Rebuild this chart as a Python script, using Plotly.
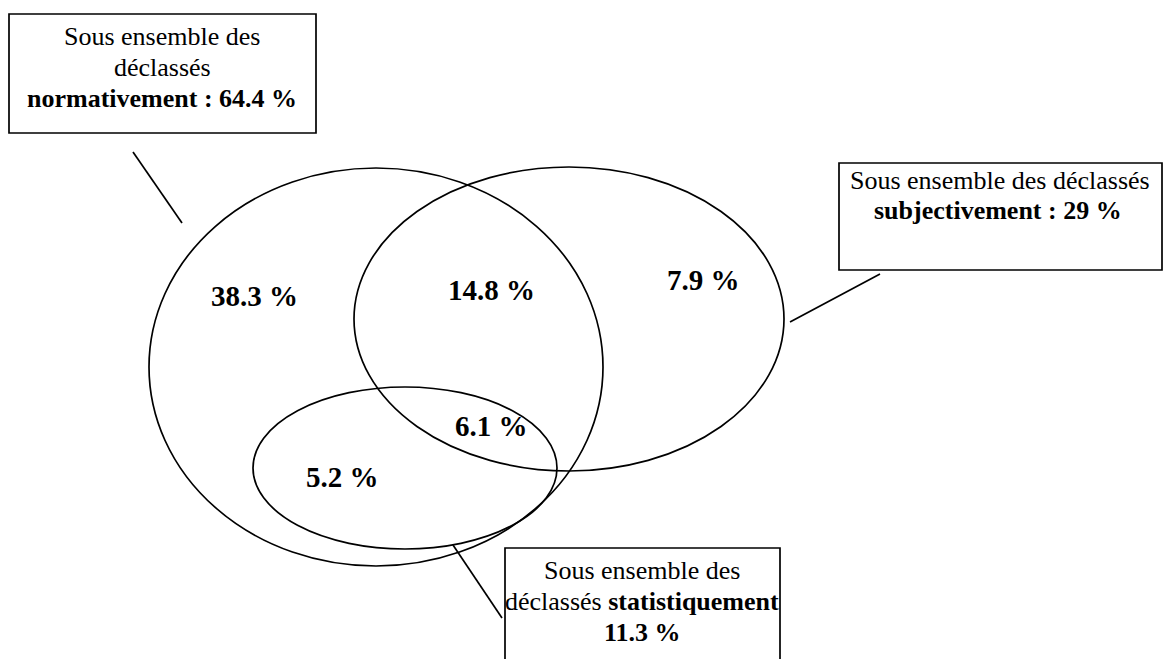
import plotly.graph_objects as go

# ---- data ----
region_names = ["normativement seul", "normativement et subjectivement",
                "subjectivement seul", "les trois", "normativement et statistiquement"]
region_values = [38.3, 14.8, 7.9, 6.1, 5.2]
set_names = ["normativement", "subjectivement", "statistiquement"]
set_totals = [64.4, 29, 11.3]

# ---- layout (pixel-like coordinates) ----
W, H = 1164, 659
ellipses = {  # cx, cy, rx, ry
    "normativement": (376, 367, 227, 199),
    "subjectivement": (569, 319, 215, 152),
    "statistiquement": (405, 468, 152, 81),
}
region_pos = [(254, 296), (491, 290), (703, 280), (491, 426), (342, 477)]
boxes = {  # x0, y0, x1, y1
    "normativement": (9, 14, 316, 133),
    "subjectivement": (839, 163, 1162, 270),
    "statistiquement": (505, 548, 780, 675),
}
connectors = {
    "normativement": ((133, 152), (182, 223)),
    "subjectivement": ((790, 322), (880, 274)),
    "statistiquement": ((453, 545), (502, 618)),
}

FONT = "Liberation Serif"
BOX_SIZE = 26
LBL_SIZE = 29
LW = 1.7


def fmt(v):
    return f"{v:g} %"


fig = go.Figure()
fig.add_trace(go.Scatter(x=[0, W], y=[0, H], mode="markers",
                         marker=dict(opacity=0), hoverinfo="skip", showlegend=False))

shapes = []
for name in set_names:
    cx, cy, rx, ry = ellipses[name]
    shapes.append(dict(type="circle", xref="x", yref="y",
                       x0=cx - rx, x1=cx + rx, y0=cy - ry, y1=cy + ry,
                       line=dict(color="black", width=LW), fillcolor="rgba(0,0,0,0)"))
    bx0, by0, bx1, by1 = boxes[name]
    shapes.append(dict(type="rect", xref="x", yref="y", x0=bx0, x1=bx1, y0=by0, y1=by1,
                       line=dict(color="black", width=LW), fillcolor="rgba(0,0,0,0)"))
    (lx0, ly0), (lx1, ly1) = connectors[name]
    shapes.append(dict(type="line", xref="x", yref="y", x0=lx0, y0=ly0, x1=lx1, y1=ly1,
                       line=dict(color="black", width=LW)))

annotations = []
for (x, y), v in zip(region_pos, region_values):
    annotations.append(dict(x=x, y=y, xref="x", yref="y", text=f"<b>{fmt(v)}</b>",
                            showarrow=False, xanchor="center", yanchor="middle",
                            font=dict(family=FONT, size=LBL_SIZE, color="black")))

box_lines = {
    "normativement": [("Sous ensemble des", 162, 36),
                      ("déclassés", 162, 67),
                      (f"<b>{set_names[0]} : {fmt(set_totals[0])}</b>", 162, 98)],
    "subjectivement": [("Sous ensemble des déclassés", 1000, 180),
                       (f"<b>{set_names[1]} : {fmt(set_totals[1])}</b>", 998, 210)],
    "statistiquement": [("Sous ensemble des", 642, 570),
                        (f"déclassés <b>{set_names[2]}</b>", 642, 601),
                        (f"<b>{fmt(set_totals[2])}</b>", 642, 632)],
}
for name in set_names:
    for txt, x, y in box_lines[name]:
        annotations.append(dict(x=x, y=y, xref="x", yref="y", text=txt,
                                showarrow=False, xanchor="center", yanchor="middle",
                                font=dict(family=FONT, size=BOX_SIZE, color="black")))

fig.update_layout(
    width=W, height=H, margin=dict(l=0, r=0, t=0, b=0),
    paper_bgcolor="white", plot_bgcolor="white",
    xaxis=dict(range=[0, W], visible=False, fixedrange=True),
    yaxis=dict(range=[H, 0], visible=False, fixedrange=True),
    shapes=shapes, annotations=annotations, showlegend=False,
)
fig.write_html("out.html", config={"displayModeBar": False},
               post_script="document.body.style.margin='0';document.body.style.overflow='hidden';")
